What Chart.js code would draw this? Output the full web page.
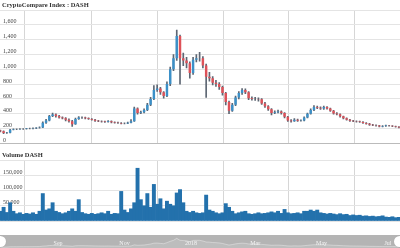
<!DOCTYPE html>
<html>
<head>
<meta charset="utf-8">
<script src="https://cdn.jsdelivr.net/npm/chart.js@4.4.1/dist/chart.umd.min.js"></script>
<style>
    html, body { margin: 0; padding: 0; background: #fff; }
    #wrap { position: relative; width: 400px; height: 248px; overflow: hidden; font-family: "Liberation Serif", serif; }
    canvas { position: absolute; left: 0; }
    #priceChart { top: 0; }
    #volumeChart { top: 150px; }
    #scrollChart { top: 235px; background: #b4b4b4; }
    .panel-title { position: absolute; left: 2px; font-size: 6.5px; font-weight: bold; color: #333; white-space: nowrap; }
    .handle { position: absolute; top: 236px; width: 11px; height: 11px; border-radius: 50%; background: #fff; box-shadow: 0 0 1px #999; }
</style>
</head>
<body>
<div id="wrap">
    <canvas id="priceChart" width="400" height="150"></canvas>
    <canvas id="volumeChart" width="400" height="85"></canvas>
    <canvas id="scrollChart" width="400" height="13"></canvas>
    <div class="panel-title" style="top:1px">CryptoCompare Index : DASH</div>
    <div class="panel-title" style="top:151px">Volume DASH</div>
    <div class="handle" style="left:-5px"></div>
    <div class="handle" style="left:394px"></div>
</div>
<script>
// ---------------------------------------------------------------------------
// Data (3-day candles, day 0 = 9 Jul 2017)
// ---------------------------------------------------------------------------
const startDay = 1;
const stepDays = 3;
const firstOpen = 175;

const closes = [165,140,145,185,190,190,195,195,200,200,
    205,210,215,280,310,370,390,370,350,340,
    320,300,260,330,350,350,340,330,320,305,
    300,295,290,300,285,280,275,270,270,280,
    300,470,410,420,450,520,600,720,740,690,
    640,800,1000,1150,1450,1150,1120,1080,950,1130,
    1150,1150,1050,900,880,820,800,760,680,560,
    440,520,620,680,720,690,610,600,600,595,
    540,500,460,410,420,430,410,360,310,300,
    320,305,310,350,400,450,490,480,470,490,
    470,440,405,395,365,340,320,305,300,295,
    290,275,265,250,245,240,228,235,240,238,
    230,225,215];

const highs = [180,168,150,190,196,195,200,200,205,206,
    210,215,225,290,325,380,410,400,378,360,
    348,330,310,340,362,360,356,345,336,325,
    312,306,300,308,304,290,286,282,278,288,
    320,490,480,435,465,540,620,780,790,755,
    700,830,1030,1200,1530,1460,1220,1160,1100,1160,
    1200,1230,1170,1070,960,900,850,820,775,690,
    570,540,640,700,740,735,700,630,620,615,
    605,555,510,470,440,450,440,415,365,322,
    335,328,318,360,410,465,510,505,495,505,
    498,478,445,415,400,370,345,325,312,306,
    300,294,280,270,256,250,244,240,246,245,
    242,234,228];

const lows = [155,130,133,142,182,185,187,190,192,195,
    196,200,205,212,270,305,360,355,340,330,
    305,285,230,255,325,338,332,322,312,298,
    293,288,283,285,278,272,268,262,262,265,
    275,295,395,400,410,440,510,590,700,660,
    610,630,780,980,1120,800,1050,1020,880,930,
    1100,1110,1020,620,840,790,770,730,650,520,
    400,430,510,600,660,670,590,585,580,570,
    525,485,445,385,400,410,395,345,295,285,
    295,298,300,305,345,395,440,470,460,460,
    462,430,395,385,355,332,312,298,292,288,
    282,268,258,244,238,234,222,224,230,232,
    225,219,210];

const volumes = [32000,45000,28000,60000,32000,24000,27000,22000,25000,23000,
    27000,22000,32000,90000,36000,40000,60000,32000,28000,24000,
    27000,32000,40000,32000,70000,28000,24000,22000,25000,22000,
    24000,27000,24000,32000,22000,25000,24000,97000,36000,28000,
    40000,60000,173000,70000,50000,90000,45000,120000,55000,73000,
    40000,65000,55000,50000,92000,103000,60000,32000,28000,32000,
    27000,25000,27000,85000,36000,32000,27000,24000,27000,57000,
    45000,32000,24000,27000,30000,32000,24000,22000,24000,27000,
    24000,25000,27000,30000,27000,32000,25000,38000,27000,24000,
    25000,27000,24000,32000,32000,36000,32000,36000,27000,25000,
    23000,25000,23000,21000,24000,21000,22000,18000,20000,18000,
    19000,16000,17000,15000,16000,14000,15000,17000,13000,12000,
    14000,11000,12000];

// month boundaries (day offsets) and their labels
const monthTicks = [54, 115, 176, 235, 296, 357];
const monthLabels = ["Sep", "Nov", "2018", "Mar", "May", "Jul"];

const X_MIN = 0.7;
const X_MAX = 368;

// ---------------------------------------------------------------------------
// Helpers
// ---------------------------------------------------------------------------
const UP = "#3b90c8";
const DOWN = "#de5158";
const WICK = "#5d6673";
const GRID = "#e4e4e4";

const dayOf = i => startDay + i * stepDays;
const openOf = i => (i === 0 ? firstOpen : closes[i - 1]);

Chart.defaults.font.family = "'Liberation Serif', serif";
Chart.defaults.font.size = 6;
Chart.defaults.color = "#444";
Chart.defaults.animation = false;

function timeAxis() {
    return {
        type: "linear",
        min: X_MIN,
        max: X_MAX,
        offset: false,
        afterBuildTicks: s => { s.ticks = monthTicks.map(v => ({ value: v })); },
        grid: { color: "#d6d6d6", drawTicks: false },
        border: { display: false },
        ticks: { display: false },
        afterFit: s => { s.height = 0; },
    };
}

// month names drawn inside the scrollbar band at the x scale positions
const monthLabelPlugin = {
    id: "monthLabels",
    afterDraw(chart) {
        const { ctx, scales: { x } } = chart;
        ctx.save();
        ctx.font = "6px 'Liberation Serif', serif";
        ctx.fillStyle = "#f4f4f4";
        ctx.textAlign = "center";
        ctx.textBaseline = "middle";
        monthTicks.forEach((d, i) => ctx.fillText(monthLabels[i], x.getPixelForValue(d), 8.5));
        ctx.restore();
    },
};

// ---------------------------------------------------------------------------
// Price (candles as floating bars)
// ---------------------------------------------------------------------------
const candleColors = closes.map((c, i) => (c >= openOf(i) ? UP : DOWN));

new Chart(document.getElementById("priceChart"), {
    type: "bar",
    data: {
        datasets: [
            {
                data: closes.map((c, i) => ({ x: dayOf(i), y: [lows[i], highs[i]] })),
                backgroundColor: WICK,
                barThickness: 1,
                grouped: false,
                order: 2,
            },
            {
                data: closes.map((c, i) => ({ x: dayOf(i), y: [openOf(i), c] })),
                backgroundColor: candleColors,
                barPercentage: 0.75,
                categoryPercentage: 1,
                grouped: false,
                order: 1,
            },
        ],
    },
    options: {
        responsive: false,
        devicePixelRatio: 1,
        layout: { padding: { top: 10, bottom: 5, left: 0, right: 0 } },
        plugins: { legend: { display: false }, tooltip: { enabled: false } },
        scales: {
            x: timeAxis(),
            y: {
                min: 0,
                max: 1800,
                ticks: {
                    stepSize: 200,
                    mirror: true,
                    padding: 3,
                    labelOffset: -3,
                    callback: v => (v >= 1800 ? "" : v.toLocaleString("en-US")),
                },
                grid: { color: c => (c.tick.value === 0 ? "#bbb" : GRID), drawTicks: false },
                border: { display: false },
                afterFit: s => { s.width = 0; },
            },
        },
    },
});

// ---------------------------------------------------------------------------
// Volume
// ---------------------------------------------------------------------------
new Chart(document.getElementById("volumeChart"), {
    type: "bar",
    data: {
        datasets: [{
            data: volumes.map((v, i) => ({ x: dayOf(i), y: v })),
            backgroundColor: "#2371ac",
            borderWidth: 0,
            barPercentage: 1,
            categoryPercentage: 1,
        }],
    },
    options: {
        responsive: false,
        devicePixelRatio: 1,
        layout: { padding: { top: 10, bottom: 14, left: 0, right: 0 } },
        plugins: { legend: { display: false }, tooltip: { enabled: false } },
        scales: {
            x: timeAxis(),
            y: {
                min: 0,
                max: 200000,
                ticks: {
                    stepSize: 50000,
                    mirror: true,
                    padding: 3,
                    labelOffset: -3,
                    callback: v => (v === 0 || v >= 200000 ? "" : v.toLocaleString("en-US")),
                },
                grid: { color: GRID, drawTicks: false },
                border: { display: false },
                afterFit: s => { s.width = 0; },
            },
        },
    },
});

// ---------------------------------------------------------------------------
// Scrollbar preview
// ---------------------------------------------------------------------------
new Chart(document.getElementById("scrollChart"), {
    type: "line",
    data: {
        datasets: [{
            data: closes.map((c, i) => ({ x: dayOf(i), y: c })),
            borderColor: "rgba(255,255,255,0.35)",
            backgroundColor: "rgba(255,255,255,0.12)",
            borderWidth: 1,
            fill: true,
            pointRadius: 0,
        }],
    },
    options: {
        responsive: false,
        devicePixelRatio: 1,
        layout: { padding: { top: 1, bottom: 0, left: 0, right: 0 } },
        plugins: { legend: { display: false }, tooltip: { enabled: false } },
        scales: {
            x: Object.assign(timeAxis(), { grid: { display: false } }),
            y: { display: false, min: 0, max: 1800 },
        },
    },
    plugins: [monthLabelPlugin],
});
</script>
</body>
</html>
